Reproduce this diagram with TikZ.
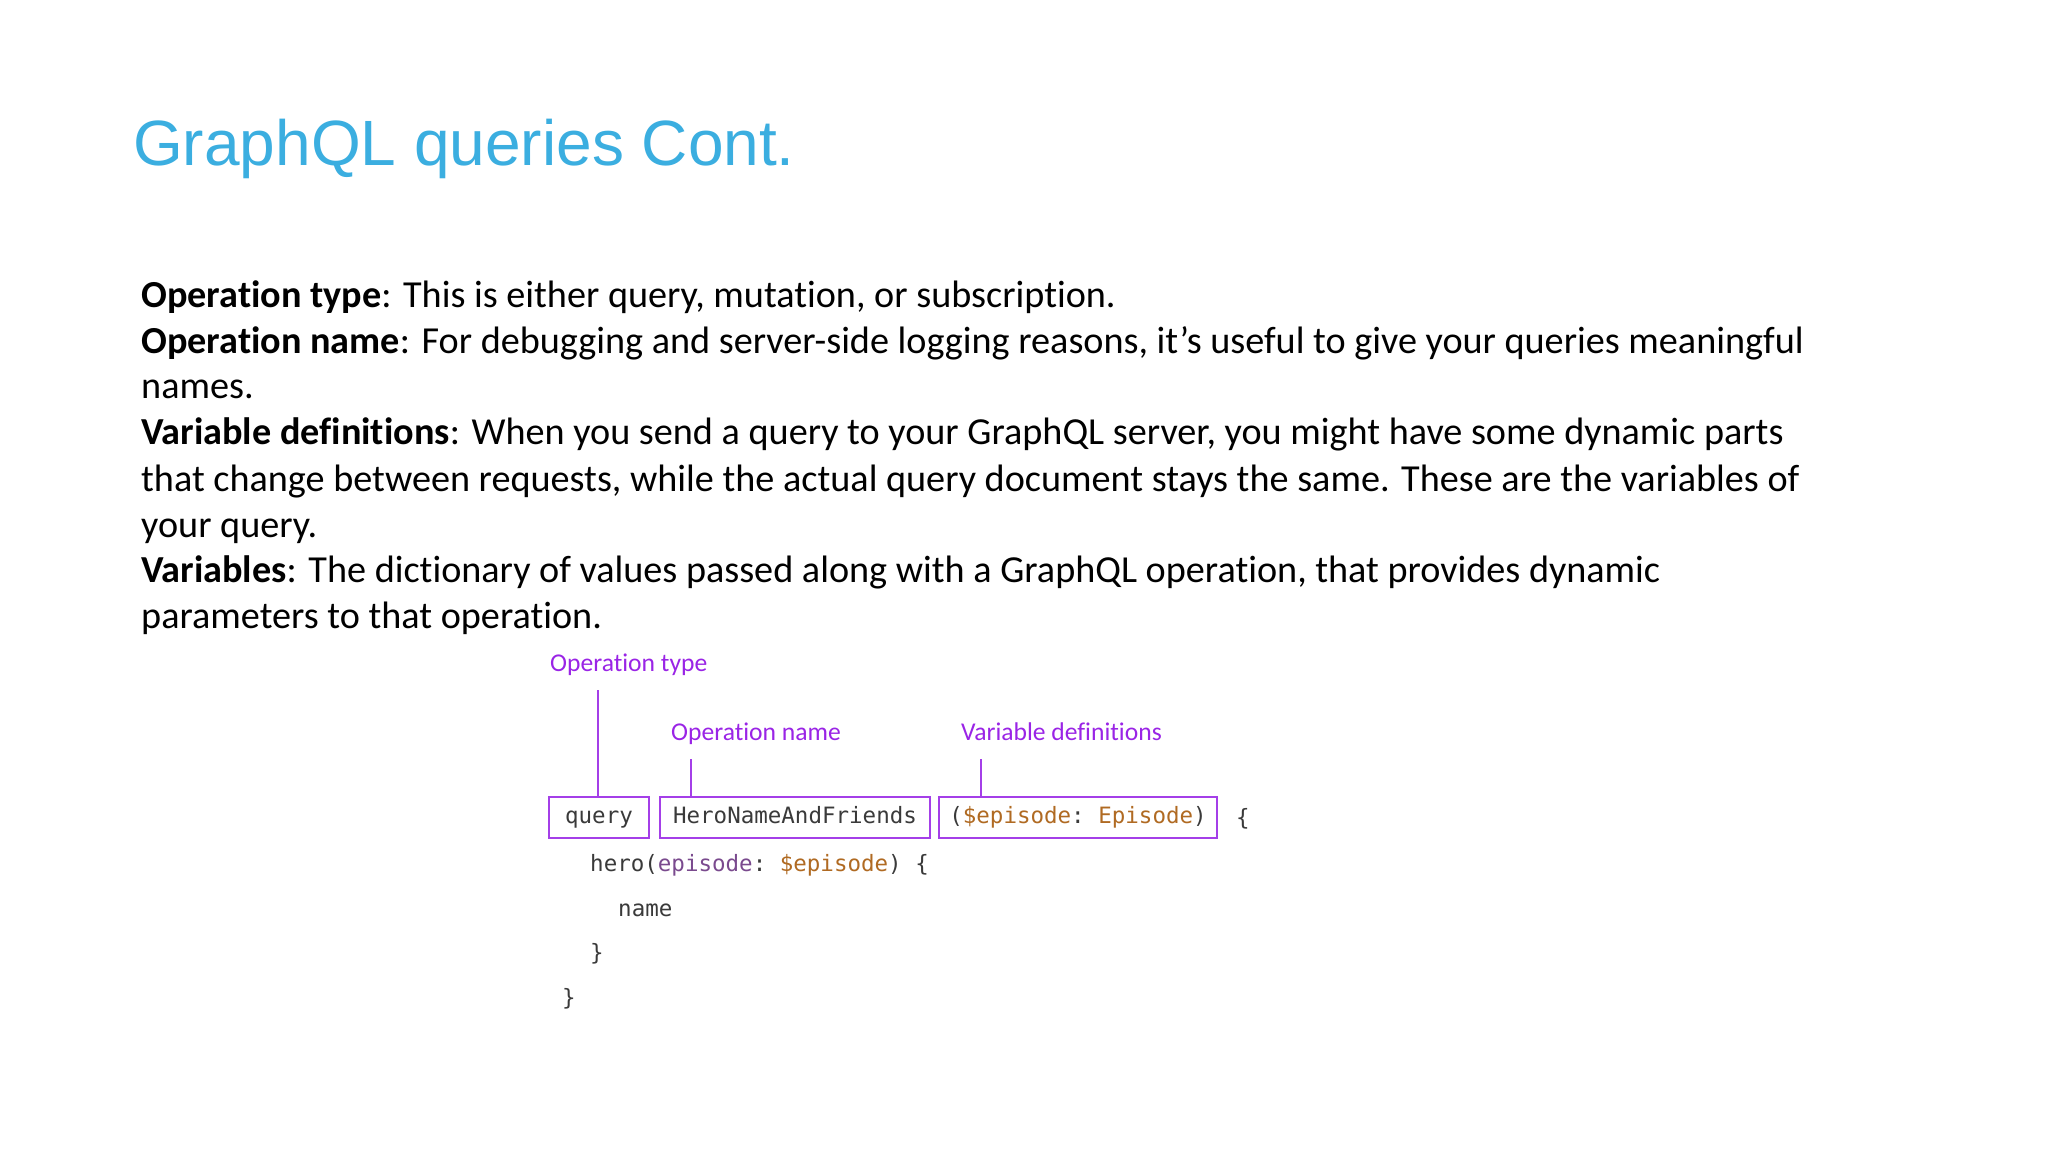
\documentclass[tikz,border=0pt]{standalone}
\usepackage{fontspec}
\setmainfont{Carlito}[Ligatures=NoCommon]
\newfontfamily\titlefont{Liberation Sans}
\setmonofont{DejaVu Sans Mono}
\definecolor{titleblue}{HTML}{3BAEE0}
\definecolor{lblpurple}{HTML}{9A24E6}
\definecolor{boxpurple}{HTML}{A43FE8}
\definecolor{codegray}{HTML}{3A3A3A}
\definecolor{codeorange}{HTML}{B06A22}
\definecolor{codepurple}{HTML}{7A4A8E}
\begin{document}
\begin{tikzpicture}[x=1pt,y=-1pt,
  body/.style={anchor=base west,inner sep=0pt,font=\fontsize{38.2}{44}\selectfont,text=black},
  lbl/.style={anchor=base west,inner sep=0pt,font=\fontsize{25.6}{30}\selectfont,text=lblpurple},
  code/.style={anchor=base west,inner sep=0pt,font=\ttfamily\fontsize{22.5}{27}\selectfont,text=codegray},
  cbox/.style={draw=boxpurple,line width=1.6pt,minimum height=41pt,inner sep=0pt,text height=17pt,text depth=5pt,font=\ttfamily\fontsize{22.5}{27}\selectfont,text=codegray},
  tick/.style={draw=boxpurple,line width=1.4pt}]
\useasboundingbox[fill=white] (0,0) rectangle (2048,1152);
\node[anchor=base west,inner sep=0pt,font=\titlefont\fontsize{64}{70}\selectfont,text=titleblue] (title) at (133,165) {GraphQL queries Cont.};
\node[body] (l1) at (141,307) {\textbf{Operation type}: This is either query, mutation, or subscription.};
\node[body] (l2) at (141,353) {\textbf{Operation name}: For debugging and server-side logging reasons, it’s useful to give your queries meaningful};
\node[body] (l3) at (141,398) {names.};
\node[body] (l4) at (141,444) {\textbf{Variable definitions}: When you send a query to your GraphQL server, you might have some dynamic parts};
\node[body] (l5) at (141,491) {that change between requests, while the actual query document stays the same. These are the variables of};
\node[body] (l6) at (141,537) {your query.};
\node[body] (l7) at (141,582) {\textbf{Variables}: The dictionary of values passed along with a GraphQL operation, that provides dynamic};
\node[body] (l8) at (141,628) {parameters to that operation.};
% labels
\node[lbl] (ltype) at (550,671) {Operation type};
\node[lbl] (lname) at (671,740) {Operation name};
\node[lbl] (lvar) at (961,740) {Variable definitions};
% boxes
\node[cbox,minimum width=100pt] (bq) at (599,817.5) {query};
\node[cbox,minimum width=270pt] (bh) at (795,817.5) {HeroNameAndFriends};
\node[cbox,minimum width=278pt] (bv) at (1078,817.5) {(\textcolor{codeorange}{\$episode}: \textcolor{codeorange}{Episode})};
\node[code] (ob) at (1236,825) {\{};
\node[code] (c2) at (590,871) {hero(\textcolor{codepurple}{episode}: \textcolor{codeorange}{\$episode}) \{};
\node[code] (c3) at (618,916) {name};
\node[code] (c4) at (590,960) {\}};
\node[code] (c5) at (562,1005) {\}};
% ticks
\coordinate (t1) at (598,690);
\coordinate (t2) at (691,759);
\coordinate (t3) at (981,759);
\draw[tick] (t1) -- (t1 |- bq.north);
\draw[tick] (t2) -- (t2 |- bh.north);
\draw[tick] (t3) -- (t3 |- bv.north);
\end{tikzpicture}
\end{document}
